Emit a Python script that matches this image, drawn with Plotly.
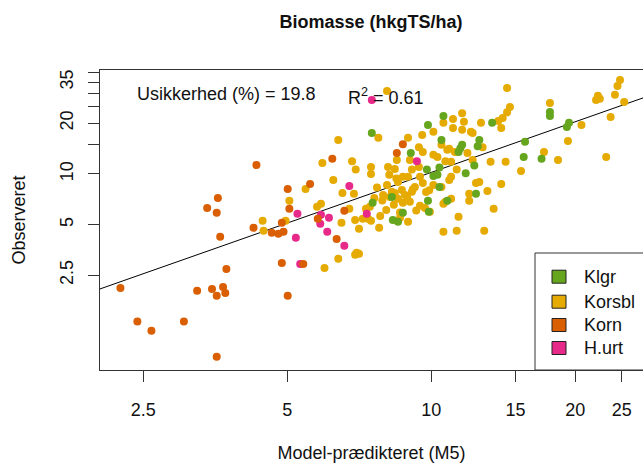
import math
import plotly.graph_objects as go

# ---------------- data ----------------
korn_x = [2.24, 2.43, 2.60, 3.04, 3.24, 3.48, 3.56, 3.67, 3.71, 3.73, 3.62, 3.56, 3.40, 3.58, 3.56,
          4.31, 4.25, 4.64, 4.79, 4.91, 4.87, 4.87, 5.01, 5.01, 5.05, 5.40, 5.58, 5.79, 6.34, 6.58,
          6.21, 8.47, 8.72]
korn_y = [2.10, 1.33, 1.17, 1.33, 2.02, 2.07, 1.89, 2.13, 1.96, 2.72, 4.23, 5.87, 6.28, 7.20, 0.82,
          11.3, 4.78, 4.47, 4.41, 4.53, 5.12, 2.96, 1.89, 8.14, 6.20, 2.92, 8.72, 5.41, 4.11, 6.03,
          12.3, 13.3, 15.0]

hurt_x = [5.25, 5.21, 5.32, 5.88, 6.11, 5.86, 6.06, 6.58, 6.74, 7.33, 7.51, 9.33]
hurt_y = [5.79, 4.17, 2.92, 5.71, 5.48, 5.05, 4.53, 3.74, 8.48, 5.79, 27.5, 11.9]

klgr_x = [7.51, 9.06, 10.6, 9.84, 12.6, 12.5, 11.6, 11.5, 11.4, 10.5, 9.79, 10.1, 10.3, 10.4,
          11.8, 12.3, 13.4, 15.6, 15.7, 17.7, 17.7, 19.2, 19.4, 17.0, 7.54, 8.31, 8.27, 10.4,
          12.4, 10.8, 9.84, 8.72, 8.52, 9.88]
klgr_y = [17.5, 13.3, 22.1, 19.5, 15.9, 14.6, 14.9, 14.2, 13.5, 15.9, 10.6, 9.73, 9.87, 10.9,
          10.1, 11.2, 20.1, 12.6, 15.5, 23.3, 22.1, 19.0, 20.1, 12.3, 6.73, 5.33, 7.30, 8.37,
          7.61, 6.92, 6.92, 5.87, 5.19, 5.95]

korsbl_x = [4.44, 4.46, 4.96, 5.05, 5.46, 5.77, 5.88, 5.92, 6.24, 6.52, 6.89, 6.95, 6.49, 6.74,
            6.93, 7.06, 6.98, 6.93, 7.06, 6.39, 5.98, 7.19, 7.37, 7.48, 7.30, 7.44, 7.82, 7.78,
            8.08, 7.93, 8.19, 8.27, 6.39, 7.75, 8.08, 8.47, 6.83, 7.48, 7.48, 8.12, 8.17, 8.52,
            8.94, 9.02, 9.42, 9.60, 9.42, 8.72, 8.94, 9.11, 8.39, 9.47, 9.57, 10.1, 10.6, 11.1,
            11.1, 11.6, 11.6, 11.7, 12.1, 12.2, 12.7, 13.8, 14.1, 14.0, 14.4, 14.6, 14.4, 12.8,
            11.9, 12.2, 11.2, 10.9, 10.5, 10.8, 10.1, 10.3, 11.0, 10.7, 11.0, 11.3, 13.3, 14.3,
            12.6, 12.4, 10.9, 14.0, 8.39, 8.68, 8.81, 9.11, 9.24, 9.60, 10.1, 10.5, 12.0, 12.0,
            13.1, 11.0, 10.7, 10.6, 8.52, 8.72, 9.02, 9.47, 9.70, 9.93, 8.60, 8.94, 11.4, 13.5,
            10.6, 11.3, 12.9, 15.4, 17.2, 18.4, 19.3, 20.6, 17.7, 23.2, 23.7, 25.3, 24.2, 22.3,
            22.5, 22.1, 24.8, 24.5,
            7.60, 7.90, 8.35, 8.90, 9.30, 9.75, 8.05, 8.60, 9.15, 7.70, 8.45, 9.90]
korsbl_y = [5.26, 4.59, 5.26, 6.92, 8.14, 6.37, 6.64, 11.6, 9.21, 7.71, 7.61, 10.6, 5.12, 6.20,
            5.33, 4.72, 3.40, 3.31, 3.35, 3.13, 2.76, 5.41, 5.41, 5.26, 6.20, 6.37, 5.63, 4.78,
            8.60, 7.50, 7.30, 7.82, 15.9, 16.4, 31.1, 12.1, 11.9, 11.0, 10.0, 11.0, 9.87, 8.96,
            16.4, 12.1, 14.4, 13.5, 11.0, 9.60, 9.60, 10.6, 10.7, 9.60, 17.0, 17.8, 20.1, 21.2,
            18.7, 18.3, 22.9, 20.4, 17.8, 17.5, 20.1, 20.6, 21.5, 18.7, 23.2, 25.0, 32.4, 14.4,
            13.3, 12.1, 13.5, 14.1, 14.9, 13.9, 13.0, 12.6, 11.8, 11.9, 9.60, 10.6, 11.8, 11.8,
            8.96, 8.84, 9.21, 8.72, 7.71, 8.03, 7.50, 7.82, 8.37, 8.84, 8.60, 8.37, 7.61, 6.92,
            7.92, 7.11, 6.82, 6.64, 7.11, 6.73, 6.82, 6.46, 6.28, 5.95, 5.48, 5.19, 5.56, 6.20,
            4.53, 4.59, 4.59, 10.4, 13.5, 12.1, 15.7, 19.5, 26.4, 12.6, 21.8, 26.7, 29.5, 29.1,
            27.9, 27.5, 36.1, 33.3,
            7.20, 6.95, 6.55, 7.35, 6.05, 7.80, 6.10, 5.90, 8.10, 8.30, 9.40, 8.00]

fit_x = [1.9, 30.0]
fit_y = [1.94, 30.6]

groups = ["Klgr", "Korsbl", "Korn", "H.urt"]
colors = {"Klgr": "#66A61E", "Korsbl": "#E6AB02", "Korn": "#D95F02", "H.urt": "#E7298A"}

x_ticks = [2.5, 5, 10, 15, 20, 25]
y_ticks = [2.5, 5, 10, 20, 35]
y_minor_ticks = [15, 25, 30, 40]

FONT = "Liberation Sans, Arial, sans-serif"
W, H = 643, 465
L, R, T, B = 100, 0, 70, 95
PW, PH = W - L - R, H - T - B


def px(xp):
    return (xp - L) / PW


def py(yp):
    return (H - B - yp) / PH


fig = go.Figure()

fig.add_trace(go.Scatter(x=fit_x, y=fit_y, mode="lines",
                         line=dict(color="black", width=1), showlegend=False, hoverinfo="skip"))

series = [("Korsbl", korsbl_x, korsbl_y), ("Klgr", klgr_x, klgr_y),
          ("H.urt", hurt_x, hurt_y), ("Korn", korn_x, korn_y)]
for name, xs, ys in series:
    fig.add_trace(go.Scatter(x=xs, y=ys, mode="markers", name=name,
                             marker=dict(color=colors[name], size=8, line=dict(width=0)),
                             showlegend=False))

fig.update_xaxes(type="log", range=[math.log10(2.03), math.log10(27.7)],
                 tickvals=x_ticks, ticktext=[str(v) for v in x_ticks],
                 ticks="outside", ticklen=11, tickcolor="#333", tickwidth=1,
                 showline=True, linecolor="#333", linewidth=1, mirror=True,
                 showgrid=False, zeroline=False,
                 tickfont=dict(family=FONT, size=18, color="#111"),
                 ticklabelstandoff=12,
                 title=dict(text="Model-prædikteret (M5)", standoff=27,
                            font=dict(family=FONT, size=18, color="#111")))
fig.update_yaxes(type="log", range=[math.log10(0.684), math.log10(41.4)],
                 tickvals=y_ticks, ticktext=[str(v) for v in y_ticks], tickangle=-90,
                 ticks="outside", ticklen=11, tickcolor="#333", tickwidth=1,
                 minor=dict(tickvals=y_minor_ticks, ticks="outside", ticklen=11,
                            tickcolor="#333", tickwidth=1, showgrid=False),
                 showline=True, linecolor="#333", linewidth=1, mirror=False,
                 showgrid=False, zeroline=False,
                 tickfont=dict(family=FONT, size=18, color="#111"),
                 ticklabelstandoff=8,
                 title=dict(text="Observeret", standoff=26,
                            font=dict(family=FONT, size=18, color="#111")))

annotations = [
    dict(text="Usikkerhed (%) = 19.8", x=px(135), y=py(94), xanchor="left", font=dict(size=18)),
    dict(text="R<sup>2</sup> = 0.61", x=px(346), y=py(97), xanchor="left", font=dict(size=18)),
]
shapes = [dict(type="rect", xref="paper", yref="paper", x0=px(535), x1=px(660), y0=py(370), y1=py(253),
               line=dict(color="#333", width=1), fillcolor="white", layer="above")]
rows = [276.7, 301.7, 325, 348]
for g, yc in zip(groups, rows):
    shapes.append(dict(type="rect", xref="paper", yref="paper", x0=px(552), x1=px(566),
                       y0=py(yc + 6.5), y1=py(yc - 6.5), line=dict(color="#222", width=1),
                       fillcolor=colors[g], layer="above"))
    annotations.append(dict(text=g, x=px(582), y=py(yc), xanchor="left", font=dict(size=18)))

for a in annotations:
    a.setdefault("xref", "paper")
    a.setdefault("yref", "paper")
    a.setdefault("showarrow", False)
    a.setdefault("yanchor", "middle")
    a["font"] = dict(family=FONT, color="#111", **a["font"])

fig.update_layout(width=W, height=H, margin=dict(l=L, r=R, t=T, b=B),
                  paper_bgcolor="white", plot_bgcolor="white",
                  title=dict(text="<b>Biomasse (hkgTS/ha)</b>", xref="paper", x=px(371),
                             xanchor="center", yref="container", y=1 - 22 / H, yanchor="middle",
                             font=dict(family=FONT, size=18, color="#111")),
                  annotations=annotations, shapes=shapes,
                  font=dict(family=FONT, size=18, color="#111"))

fig.write_html("out.html")
